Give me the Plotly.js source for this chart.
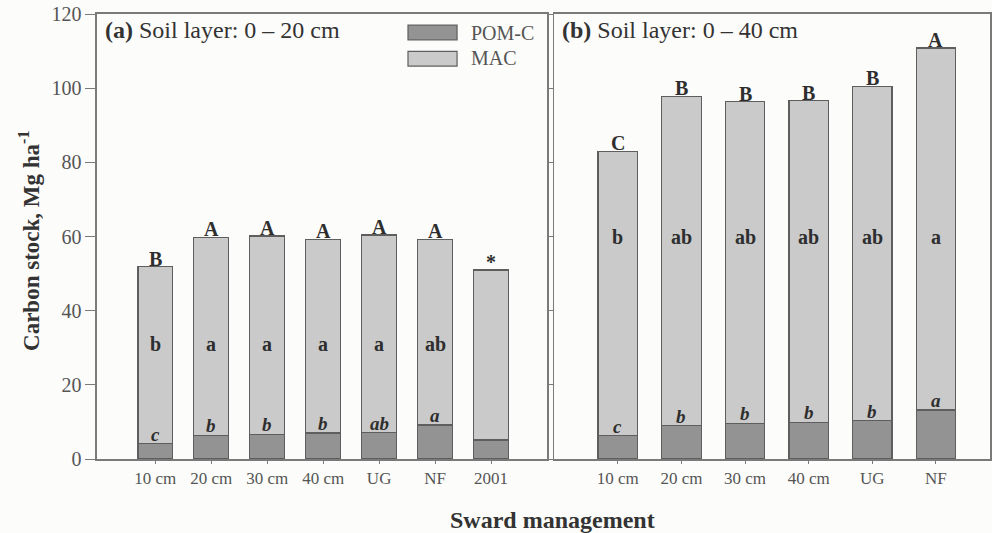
<!DOCTYPE html>
<html>
<head>
<meta charset="utf-8">
<script src="https://cdn.plot.ly/plotly-3.0.1.min.js"></script>
<style>
  html, body { margin: 0; padding: 0; background: #fcfcfa; }
  #chart { width: 992px; height: 533px; }
</style>
</head>
<body>
<div id="chart"></div>
<script>
// Sward management treatments for each soil layer
const catsA = ["10 cm", "20 cm", "30 cm", "40 cm", "UG", "NF", "2001"];
const catsB = ["10 cm", "20 cm", "30 cm", "40 cm", "UG", "NF"];

// Carbon stocks (Mg ha-1), 0-20 cm layer
const pomA = [4.1, 6.4, 6.7, 7.0, 7.1, 9.2, 5.1];
const macA = [47.8, 53.4, 53.4, 52.2, 53.3, 50.0, 45.9];

// Carbon stocks (Mg ha-1), 0-40 cm layer
const pomB = [6.3, 9.0, 9.6, 9.9, 10.3, 13.2];
const macB = [76.7, 88.8, 86.8, 86.7, 90.2, 97.6];

// Significance letters: totals, MAC, POM-C
const totLetA = ["B", "A", "A", "A", "A", "A", "*"];
const macLetA = ["b", "a", "a", "a", "a", "ab", ""];
const pomLetA = ["c", "b", "b", "b", "ab", "a", ""];
const totLetB = ["C", "B", "B", "B", "B", "A"];
const macLetB = ["b", "ab", "ab", "ab", "ab", "a"];
const pomLetB = ["c", "b", "b", "b", "b", "a"];

const SERIF = "Liberation Serif, Times New Roman, serif";
const POM_COLOR = "#939393";
const MAC_COLOR = "#cacaca";
const EDGE = "#5e5e5e";
const AXIS = "#7a7a7a";
const INK = "#2e2e2e";

function bar(name, cats, vals, color, xa, ya) {
  return {
    type: "bar", name: name, x: cats, y: vals,
    xaxis: xa, yaxis: ya, showlegend: false,
    marker: { color: color, line: { color: EDGE, width: 1.3 } },
    width: 0.62, hoverinfo: "x+y+name"
  };
}

const traces = [
  bar("POM-C", catsA, pomA, POM_COLOR, "x", "y"),
  bar("MAC", catsA, macA, MAC_COLOR, "x", "y"),
  bar("POM-C", catsB, pomB, POM_COLOR, "x2", "y2"),
  bar("MAC", catsB, macB, MAC_COLOR, "x2", "y2")
];

// letters are placed by category index (a label such as "2001" would read as a number)
const annotations = [];
function letters(cats, pom, mac, top, mid, low, xr, yr, midY) {
  cats.forEach((c, i) => {
    const total = pom[i] + mac[i];
    annotations.push({
      xref: xr, yref: yr, x: i, y: total, text: "<b>" + top[i] + "</b>",
      showarrow: false, yanchor: "bottom", yshift: -5,
      font: { family: SERIF, size: 20, color: INK }
    });
    if (mid[i]) annotations.push({
      xref: xr, yref: yr, x: i, y: midY, text: "<b>" + mid[i] + "</b>",
      showarrow: false, yanchor: "middle",
      font: { family: SERIF, size: 20, color: INK }
    });
    if (low[i]) annotations.push({
      xref: xr, yref: yr, x: i, y: pom[i], text: "<b><i>" + low[i] + "</i></b>",
      showarrow: false, yanchor: "bottom", yshift: -3,
      font: { family: SERIF, size: 19, color: INK }
    });
  });
}
letters(catsA, pomA, macA, totLetA, macLetA, pomLetA, "x", "y", 31);
letters(catsB, pomB, macB, totLetB, macLetB, pomLetB, "x2", "y2", 60);

// panel headings
annotations.push({
  xref: "x domain", yref: "y domain", x: 0.014, y: 0.964,
  xanchor: "left", yanchor: "middle", showarrow: false,
  text: "<b>(a)</b> Soil layer: 0 \u2013 20 cm",
  font: { family: SERIF, size: 24, color: "#333" }
});
annotations.push({
  xref: "x2 domain", yref: "y2 domain", x: 0.014, y: 0.964,
  xanchor: "left", yanchor: "middle", showarrow: false,
  text: "<b>(b)</b> Soil layer: 0 \u2013 40 cm",
  font: { family: SERIF, size: 24, color: "#333" }
});

// legend entries
annotations.push({
  xref: "x domain", yref: "y domain", x: 0.826, y: 0.958,
  xanchor: "left", yanchor: "middle", showarrow: false, text: "POM-C",
  font: { family: SERIF, size: 20, color: "#555" }
});
annotations.push({
  xref: "x domain", yref: "y domain", x: 0.826, y: 0.900,
  xanchor: "left", yanchor: "middle", showarrow: false, text: "MAC",
  font: { family: SERIF, size: 20, color: "#555" }
});

// axis titles
annotations.push({
  xref: "paper", yref: "paper", x: 0.51, y: 0, yshift: -61,
  xanchor: "center", yanchor: "middle", showarrow: false,
  text: "<b>Sward management</b>",
  font: { family: SERIF, size: 24, color: "#333" }
});
annotations.push({
  xref: "paper", yref: "paper", x: 0, xshift: -67, y: 0.49,
  xanchor: "center", yanchor: "middle", showarrow: false, textangle: -90,
  text: "<b>Carbon stock, Mg ha<sup>-1</sup></b>",
  font: { family: SERIF, size: 23, color: "#333" }
});

const shapes = [
  { type: "rect", xref: "x domain", yref: "y domain", x0: 0.691, x1: 0.800, y0: 0.942, y1: 0.975,
    fillcolor: POM_COLOR, line: { color: EDGE, width: 1.2 } },
  { type: "rect", xref: "x domain", yref: "y domain", x0: 0.691, x1: 0.800, y0: 0.883, y1: 0.916,
    fillcolor: MAC_COLOR, line: { color: EDGE, width: 1.2 } }
];

const xCommon = {
  type: "category", showline: true, linecolor: AXIS, linewidth: 1.6, mirror: true,
  ticks: "outside", ticklen: 3, tickcolor: AXIS, showgrid: false, zeroline: false,
  tickfont: { family: SERIF, size: 17, color: "#555" }, fixedrange: true
};
const yCommon = {
  range: [0, 120], dtick: 20, showline: true, linecolor: AXIS, linewidth: 1.6, mirror: true,
  ticks: "outside", tickcolor: AXIS, showgrid: false, zeroline: false, fixedrange: true
};

const layout = {
  width: 992, height: 533,
  margin: { l: 97, r: 2, t: 14, b: 74 },
  paper_bgcolor: "#fcfcfa", plot_bgcolor: "#fcfcfa",
  barmode: "stack", showlegend: false,
  xaxis: Object.assign({}, xCommon, { domain: [0, 0.504], range: [-1.04, 7.0], anchor: "y" }),
  xaxis2: Object.assign({}, xCommon, { domain: [0.512, 1], range: [-1.0, 5.85], anchor: "y2" }),
  yaxis: Object.assign({}, yCommon, { anchor: "x", ticklen: 10,
    tickfont: { family: SERIF, size: 20, color: "#555" } }),
  yaxis2: Object.assign({}, yCommon, { anchor: "x2", ticklen: 5, showticklabels: false }),
  annotations: annotations,
  shapes: shapes
};

Plotly.newPlot("chart", traces, layout, { displayModeBar: false, staticPlot: true });
</script>
</body>
</html>
